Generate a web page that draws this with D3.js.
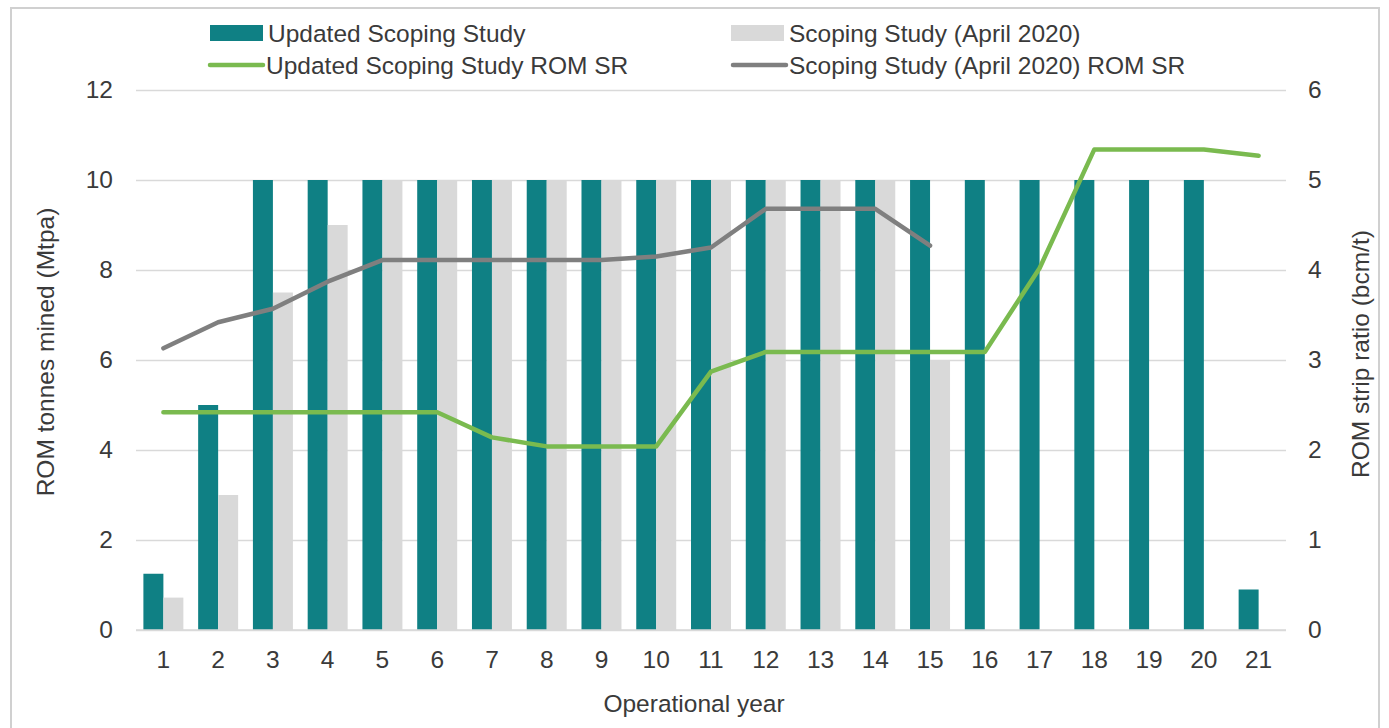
<!DOCTYPE html>
<html>
<head>
<meta charset="utf-8">
<script src="https://cdn.jsdelivr.net/npm/d3@7"></script>
<style>
  body { margin: 0; background: #fff; }
  text { font-family: "Liberation Sans", Arial, sans-serif; fill: #3a3a3a; }
</style>
</head>
<body>
<script>
// operational years
var years = d3.range(1, 22).map(String);

// ROM tonnes mined (Mtpa) - bars, left axis
var updatedTonnes = [1.25, 5, 10, 10, 10, 10, 10, 10, 10, 10, 10, 10, 10, 10, 10, 10, 10, 10, 10, 10, 0.9];
var aprilTonnes = [0.72, 3, 7.5, 9, 10, 10, 10, 10, 10, 10, 10, 10, 10, 10, 6, null, null, null, null, null, null];

// ROM strip ratio (bcm/t) - lines, right axis
var updatedSR = [2.42, 2.42, 2.42, 2.42, 2.42, 2.42, 2.14, 2.04, 2.04, 2.04, 2.87, 3.09, 3.09, 3.09, 3.09, 3.09, 4.02, 5.34, 5.34, 5.34, 5.27];
var aprilSR = [3.13, 3.42, 3.57, 3.87, 4.11, 4.11, 4.11, 4.11, 4.11, 4.15, 4.25, 4.68, 4.68, 4.68, 4.27, null, null, null, null, null, null];

var leftTicks = [0, 2, 4, 6, 8, 10, 12];
var rightTicks = [0, 1, 2, 3, 4, 5, 6];

var teal = "#0f8084", lightGrey = "#d9d9d9", green = "#7aba4f", darkGrey = "#7f7f7f";

var W = 1389, H = 728;
var plotL = 136, plotR = 1286, plotT = 90, plotB = 630;
var fs = "24.5px";

var svg = d3.select("body").append("svg")
    .attr("width", W)
    .attr("height", H);

// chart frame
svg.append("rect")
    .attr("x", 11).attr("y", 8)
    .attr("width", 1368).attr("height", 740)
    .attr("fill", "none")
    .attr("stroke", "#d0d0d0")
    .attr("stroke-width", 2);

var x0 = d3.scaleBand().domain(years).range([plotL, plotR]).paddingInner(0.27).paddingOuter(0.135);
var x1 = d3.scaleBand().domain(["u", "a"]).range([0, x0.bandwidth()]);
var yL = d3.scaleLinear().domain([0, 12]).range([plotB, plotT]);
var yR = d3.scaleLinear().domain([0, 6]).range([plotB, plotT]);

// gridlines
svg.append("g")
    .attr("transform", "translate(" + plotL + ",0)")
    .call(d3.axisLeft(yL).tickValues(leftTicks).tickSize(-(plotR - plotL)).tickFormat(""))
    .call(function (g) {
        g.select(".domain").remove();
        g.selectAll("line").attr("stroke", "#d9d9d9").attr("stroke-width", 1.5);
    });

// left axis labels
svg.append("g")
    .attr("transform", "translate(" + plotL + ",0)")
    .call(d3.axisLeft(yL).tickValues(leftTicks).tickSize(0).tickPadding(23))
    .call(function (g) {
        g.select(".domain").remove();
        g.selectAll("text").style("font-size", fs).attr("fill", "#3a3a3a");
    });

// right axis labels
svg.append("g")
    .attr("transform", "translate(" + plotR + ",0)")
    .call(d3.axisRight(yR).tickValues(rightTicks).tickFormat(d3.format("d")).tickSize(0).tickPadding(22))
    .call(function (g) {
        g.select(".domain").remove();
        g.selectAll("text").style("font-size", fs).attr("fill", "#3a3a3a");
    });

// x axis labels
svg.append("g")
    .attr("transform", "translate(0," + plotB + ")")
    .call(d3.axisBottom(x0).tickSize(0).tickPadding(21))
    .call(function (g) {
        g.select(".domain").remove();
        g.selectAll("text").style("font-size", fs).attr("fill", "#3a3a3a");
    });

// bars
var groups = svg.append("g").selectAll("g")
    .data(years)
    .enter().append("g")
    .attr("transform", function (d) { return "translate(" + x0(d) + ",0)"; });

groups.append("rect")
    .attr("x", x1("u"))
    .attr("width", x1.bandwidth())
    .attr("y", function (d, i) { return yL(updatedTonnes[i]); })
    .attr("height", function (d, i) { return plotB - yL(updatedTonnes[i]); })
    .attr("fill", teal);

groups.filter(function (d, i) { return aprilTonnes[i] != null; })
    .append("rect")
    .attr("x", x1("a"))
    .attr("width", x1.bandwidth())
    .attr("y", function (d) { return yL(aprilTonnes[+d - 1]); })
    .attr("height", function (d) { return plotB - yL(aprilTonnes[+d - 1]); })
    .attr("fill", lightGrey);

// baseline
svg.append("line")
    .attr("x1", plotL).attr("x2", plotR)
    .attr("y1", plotB).attr("y2", plotB)
    .attr("stroke", "#d9d9d9").attr("stroke-width", 1.5);

// lines
var line = d3.line()
    .defined(function (d) { return d.v != null; })
    .x(function (d) { return x0(d.year) + x0.bandwidth() / 2; })
    .y(function (d) { return yR(d.v); });

function series(vals) {
    return years.map(function (y, i) { return { year: y, v: vals[i] }; });
}

svg.append("path")
    .datum(series(aprilSR))
    .attr("d", line)
    .attr("fill", "none")
    .attr("stroke", darkGrey)
    .attr("stroke-width", 4.5)
    .attr("stroke-linecap", "round")
    .attr("stroke-linejoin", "round");

svg.append("path")
    .datum(series(updatedSR))
    .attr("d", line)
    .attr("fill", "none")
    .attr("stroke", green)
    .attr("stroke-width", 4.5)
    .attr("stroke-linecap", "round")
    .attr("stroke-linejoin", "round");

// axis titles
svg.append("text")
    .attr("transform", "translate(54,352) rotate(-90)")
    .attr("text-anchor", "middle")
    .style("font-size", fs)
    .text("ROM tonnes mined (Mtpa)");

svg.append("text")
    .attr("transform", "translate(1369,354) rotate(-90)")
    .attr("text-anchor", "middle")
    .style("font-size", fs)
    .text("ROM strip ratio (bcm/t)");

svg.append("text")
    .attr("x", (plotL + plotR) / 2 - 17)
    .attr("y", 712)
    .attr("text-anchor", "middle")
    .style("font-size", fs)
    .text("Operational year");

// legend
var legendItems = [
    { name: "Updated Scoping Study", type: "bar", color: teal, x: 210, y: 33 },
    { name: "Scoping Study (April 2020)", type: "bar", color: lightGrey, x: 731, y: 33 },
    { name: "Updated Scoping Study ROM SR", type: "line", color: green, x: 208, y: 65 },
    { name: "Scoping Study (April 2020) ROM SR", type: "line", color: darkGrey, x: 731, y: 65 }
];

var leg = svg.append("g").selectAll("g")
    .data(legendItems)
    .enter().append("g")
    .attr("transform", function (d) { return "translate(" + d.x + "," + d.y + ")"; });

leg.filter(function (d) { return d.type == "bar"; })
    .append("rect")
    .attr("x", 0).attr("y", -8)
    .attr("width", 53).attr("height", 16)
    .attr("fill", function (d) { return d.color; });

leg.filter(function (d) { return d.type == "line"; })
    .append("line")
    .attr("x1", 2).attr("x2", 55)
    .attr("stroke", function (d) { return d.color; })
    .attr("stroke-width", 4.5)
    .attr("stroke-linecap", "round");

leg.append("text")
    .attr("x", 58)
    .attr("dy", "0.36em")
    .style("font-size", fs)
    .text(function (d) { return d.name; });
</script>
</body>
</html>
